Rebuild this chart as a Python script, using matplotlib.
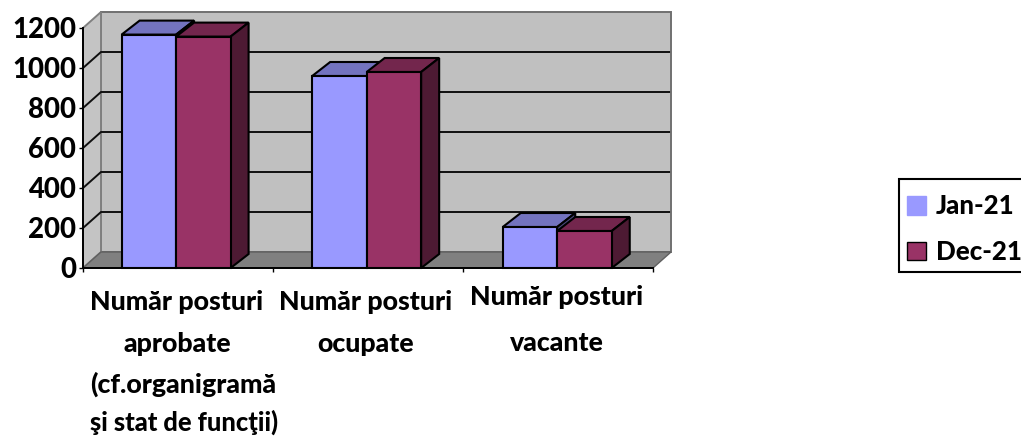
import matplotlib
matplotlib.use('Agg')
import matplotlib.pyplot as plt
from matplotlib.patches import Polygon, Patch, Rectangle
from matplotlib.colors import to_rgb

plt.rcParams['font.family'] = ['Lato', 'DejaVu Sans']
plt.rcParams['font.weight'] = 900

categories = [['Număr posturi', 'aprobate', '(cf.organigramă', 'şi stat de funcţii)'],
              ['Număr posturi', 'ocupate'],
              ['Număr posturi', 'vacante']]
series_names = ['Jan-21', 'Dec-21']
jan_21 = [1167, 960, 205]
dec_21 = [1157, 980, 185]
yticks = [0, 200, 400, 600, 800, 1000, 1200]

W, H = 1021, 437
PX_X = 190.0   # pixels per category
PX_Y = 0.2     # pixels per value unit

fig = plt.figure(figsize=(W / 100, H / 100), dpi=100)
ax = fig.add_axes([83 / W, 1 - 268 / H, 570 / W, 240 / H])
ax.set_xlim(0, 3)
ax.set_ylim(0, 1200)

# depth of the chart box and of the bars
wall_dx, wall_dy = 18 / PX_X, 16 / PX_Y
bar_dx, bar_dy = 18 / PX_X, 14 / PX_Y
bar_w = 54.5 / PX_X


def poly(pts, fc, ec='black', lw=1.5, z=2):
    ax.add_patch(Polygon(pts, closed=True, facecolor=fc, edgecolor=ec, linewidth=lw,
                         zorder=z, clip_on=False, joinstyle='miter'))


def shade(color, k):
    return tuple(c * k for c in to_rgb(color))


# walls and floor
poly([(wall_dx, wall_dy), (3 + wall_dx, wall_dy), (3 + wall_dx, 1200 + wall_dy), (wall_dx, 1200 + wall_dy)],
     '#C0C0C0', ec='#707070', lw=1.4, z=1)
poly([(0, 0), (wall_dx, wall_dy), (wall_dx, 1200 + wall_dy), (0, 1200)], '#C4C4C4', ec='#808080', lw=1.4, z=1)
poly([(0, 0), (3, 0), (3 + wall_dx, wall_dy), (wall_dx, wall_dy)], '#808080', ec='#606060', lw=1, z=1.1)

# gridlines on back wall and left wall
for v in yticks[1:-1]:
    ax.plot([0, wall_dx, 3 + wall_dx - 0.01], [v, v + wall_dy, v + wall_dy], color='#101010', lw=1.4,
            zorder=1.5, clip_on=False, solid_joinstyle='miter')

colors = ['#9999FF', '#993366']
for s, vals in enumerate([jan_21, dec_21]):
    for i, v in enumerate(vals):
        x0 = i + 0.49 + (s - 1) * bar_w + 0.003 * i
        x1 = x0 + bar_w
        z = 3 + s + i * 0.01
        poly([(x0, v), (x1, v), (x1 + bar_dx, v + bar_dy), (x0 + bar_dx, v + bar_dy)], shade(colors[s], 0.75), z=z)
        poly([(x1, 0), (x1 + bar_dx, bar_dy), (x1 + bar_dx, v + bar_dy), (x1, v)], shade(colors[s], 0.5), z=z)
        ax.bar(x0, v, width=bar_w, align='edge', color=colors[s], edgecolor='black', linewidth=1.5, zorder=z + 0.1,
               clip_on=False)

ax.patch.set_visible(False)
for side in ['top', 'right']:
    ax.spines[side].set_visible(False)
for side in ['left', 'bottom']:
    ax.spines[side].set_linewidth(1.4)
    ax.spines[side].set_zorder(6)
ax.set_yticks(yticks)
ax.set_xticks([0, 1, 2, 3])
ax.set_xticklabels([])
ax.tick_params(axis='y', length=3, width=1, labelsize=19.8, pad=2)
ax.tick_params(axis='x', length=3, width=1)

# category labels below the axis, each line placed by itself (pixels from the top-left)
line_x = [[176.5, 177.5, 183.5, 184], [365.5, 366], [556.5, 557]]
line_y = [[310, 352, 393, 431], [310, 352], [305, 351]]
for lines, xs, ys in zip(categories, line_x, line_y):
    for text, px, py in zip(lines, xs, ys):
        fig.text(px / W, 1 - py / H, text, ha='center', va='baseline', fontsize=19.3 if text[0] != 'ş' else 18.4,
                 fontweight=900)

# legend frame runs past the right edge of the picture
fig.add_artist(Rectangle((899 / W, 1 - 272 / H), 140 / W, 93 / H, transform=fig.transFigure, facecolor='white',
                         edgecolor='black', linewidth=1.5, clip_on=True))
handles = [Patch(facecolor=colors[0], edgecolor=colors[0], label=series_names[0]),
           Patch(facecolor=colors[1], edgecolor='black', label=series_names[1])]
leg = fig.legend(handles=handles, loc='lower left', bbox_to_anchor=(907 / W, 1 - 264 / H),
                 prop={'size': 18.6, 'weight': 900}, frameon=False, borderaxespad=0, borderpad=0,
                 handlelength=0.73, handleheight=0.73, handletextpad=0.38, labelspacing=0.84)

fig.savefig('out.png', dpi=100)
